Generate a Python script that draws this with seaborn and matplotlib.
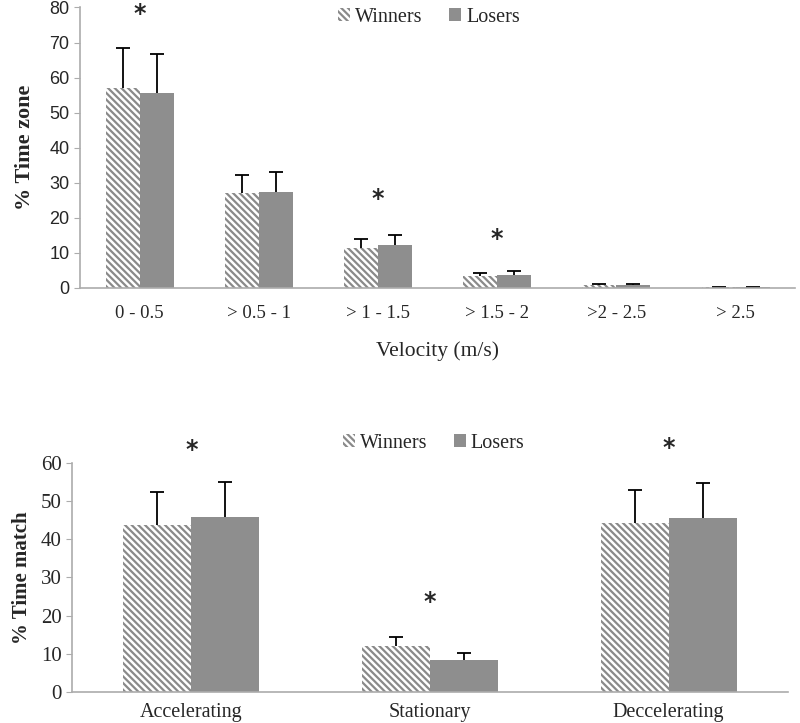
import numpy as np
import matplotlib
matplotlib.use("Agg")
import matplotlib.pyplot as plt
import pandas as pd
import seaborn as sns
from matplotlib.patches import Patch

# Data
speed_zones = ['0 - 0.5', '> 0.5 - 1', '> 1 - 1.5', '> 1.5 - 2', '>2 - 2.5', '> 2.5']
zone_winners = [57.0, 27.0, 11.5, 3.3, 0.8, 0.2]
zone_losers = [55.5, 27.5, 12.3, 3.7, 0.9, 0.3]
zone_err_winners = [11.5, 5.3, 2.5, 0.9, 0.3, 0.1]
zone_err_losers = [11.2, 5.5, 2.7, 1.0, 0.2, 0.1]
zone_star = ['0 - 0.5', '> 1 - 1.5', '> 1.5 - 2']
zone_star_y = [78, 25.5, 14]

actions = ['Accelerating', 'Stationary', 'Deccelerating']
match_winners = [43.8, 12.0, 44.2]
match_losers = [45.8, 8.5, 45.5]
match_err_winners = [8.7, 2.5, 8.8]
match_err_losers = [9.2, 1.7, 9.2]
match_star_y = [63.5, 23.5, 64]

sns.set_style('white')
plt.rcParams['font.family'] = ['Liberation Serif', 'DejaVu Serif']
plt.rcParams['hatch.linewidth'] = 1.6

hatch_col = '#8a8a8a'
loser_col = '#8e8e8e'
spine_col = '#acacac'
HATCH = '\\\\\\\\\\'


def make_df(cats, w, l):
    return pd.DataFrame({
        'cat': list(cats) * 2,
        'val': list(w) + list(l),
        'grp': ['Winners'] * len(cats) + ['Losers'] * len(cats),
    })


def draw(ax, cats, w, l, ew, el):
    df = make_df(cats, w, l)
    sns.barplot(data=df, x='cat', y='val', hue='grp', hue_order=['Winners', 'Losers'],
                palette={'Winners': 'white', 'Losers': loser_col}, width=0.57,
                linewidth=0, ax=ax, legend=False)
    for bar in ax.containers[0].patches:
        bar.set_hatch(HATCH)
        bar.set_edgecolor(hatch_col)
        bar.set_linewidth(0)
    for cont, vals, errs in zip(list(ax.containers[:2]), [w, l], [ew, el]):
        xs = [b.get_x() + b.get_width() / 2 for b in cont.patches]
        _, caps, _ = ax.errorbar(xs, vals, yerr=[np.zeros(len(errs)), errs], fmt='none',
                                 ecolor='black', elinewidth=1.3, capsize=5, capthick=1.3)
        caps[0].set_visible(False)  # only upper cap, like the original
    n = len(cats)
    ax.set_xlim(-0.5, n - 0.5)
    ax.set_xticks(np.arange(n))
    ax.set_xticks(np.arange(n + 1) - 0.5, minor=True)
    ax.tick_params(axis='x', which='major', length=0, pad=12)
    ax.tick_params(axis='x', which='minor', length=5, color=spine_col, direction='out')
    ax.tick_params(axis='y', length=4, color=spine_col, direction='out', left=True)
    for s in ['top', 'right']:
        ax.spines[s].set_visible(False)
    for s in ['left', 'bottom']:
        ax.spines[s].set_color(spine_col)
        ax.spines[s].set_linewidth(1.2)


def add_legend(ax, xc, y, loc):
    handles = [Patch(facecolor='white', edgecolor=hatch_col, hatch=HATCH, linewidth=0),
               Patch(facecolor=loser_col, linewidth=0)]
    ax.legend(handles, ['Winners', 'Losers'], loc=loc, bbox_to_anchor=(xc, y), ncol=2,
              frameon=False, fontsize=14.5, handlelength=0.6, handleheight=0.6,
              handletextpad=0.25, columnspacing=1.3)


fig = plt.figure(figsize=(8, 7.23), dpi=100)

# top panel: time in velocity zones
ax1 = fig.add_axes([0.1, 0.6017, 0.894, 0.388])
draw(ax1, speed_zones, zone_winners, zone_losers, zone_err_winners, zone_err_losers)
ax1.set_ylim(0, 80)
ax1.set_yticks(range(0, 81, 10))
for t in ax1.get_yticklabels():
    t.set_family(['Liberation Sans', 'DejaVu Sans'])
    t.set_fontsize(13)
ax1.tick_params(axis='x', labelsize=13.5)
ax1.set_xlabel('Velocity (m/s)', fontsize=15.5, labelpad=14)
ax1.set_ylabel('% Time zone', fontsize=16, fontweight='bold', labelpad=10)
for cat, y in zip(zone_star, zone_star_y):
    ax1.text(speed_zones.index(cat), y, '*', ha='center', va='center', fontsize=17,
             family='DejaVu Sans', fontweight='bold')
add_legend(ax1, 0.488, 1.063, 'upper center')

# bottom panel: time in movement type
ax2 = fig.add_axes([0.09, 0.0429, 0.895, 0.3167])
draw(ax2, actions, match_winners, match_losers, match_err_winners, match_err_losers)
ax2.set_ylim(0, 60)
ax2.set_yticks(range(0, 61, 10))
ax2.tick_params(axis='y', labelsize=15)
ax2.tick_params(axis='x', labelsize=14.5, pad=8)
ax2.set_xlabel('')
ax2.set_ylabel('% Time match', fontsize=15, fontweight='bold', labelpad=6)
for i, y in enumerate(match_star_y):
    ax2.text(i, y, '*', ha='center', va='center', fontsize=17, family='DejaVu Sans',
             fontweight='bold')
add_legend(ax2, 0.505, 0.965, 'lower center')

fig.savefig('out.png', dpi=100)
